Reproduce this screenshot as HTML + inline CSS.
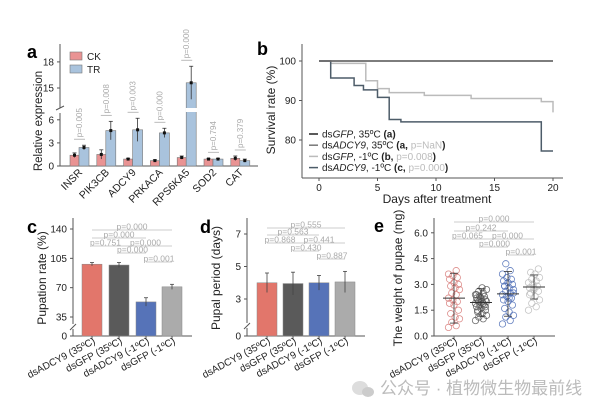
<!DOCTYPE html>
<html><head><meta charset="utf-8">
<style>
html,body{margin:0;padding:0;background:#fff;}
svg{display:block;font-family:"Liberation Sans","Noto Sans CJK SC",sans-serif;}
</style></head>
<body>
<svg id="fig" width="600" height="413" viewBox="0 0 600 413" xmlns="http://www.w3.org/2000/svg">
<text x="27" y="58" font-size="18" font-weight="bold">a</text>
<text x="257" y="55" font-size="18" font-weight="bold">b</text>
<text x="27" y="233" font-size="18" font-weight="bold">c</text>
<text x="200" y="233" font-size="18" font-weight="bold">d</text>
<text x="374" y="232" font-size="18" font-weight="bold">e</text>
<g>
<ellipse cx="360" cy="388" rx="8" ry="7" fill="#ddd"/><ellipse cx="368" cy="392" rx="6" ry="5" fill="#ccc"/>
<text x="380" y="394" font-size="17" fill="#bbb">公众号 · 植物微生物最前线</text>
</g>
</svg>
<script>
// ---------- data ----------
var genesA = ["INSR","PIK3CB","ADCY9","PRKACA","RPS6KA5","SOD2","CAT"];
var ckVals = [1.4,1.5,0.9,0.7,1.1,0.9,1.0];
var ckErr = [0.3,0.6,0.1,0.1,0.2,0.1,0.3];
var trVals = [2.4,4.6,4.7,4.3,15.6,0.9,0.7];
var trErr = [0.3,1.2,1.5,0.6,1.9,0.1,0.2];
var pA = ["p=0.005","p=0.008","p=0.003","p=0.000","p=0.000","p=0.794","p=0.379"];
var ticksALow = [0,3,6];
var ticksAHigh = [15,18];

var sGFP35T = [0,20], sGFP35V = [100,100];
var sADCY35T = [0,20], sADCY35V = [100,100];
var sGFPm1T = [0,1,4,5,6,9,13,19,20], sGFPm1V = [100,99.4,95,93,92,91.3,90.5,89.7,87];
var sADCYm1T = [0,1,3,3.8,5,6,7,19,20], sADCYm1V = [100,95.7,93.8,92.7,90.8,85.2,84.6,77.2,77.2];
var ticksBX = [0,5,10,15,20];
var ticksBY = [80,90,100];

var groups = ["dsADCY9 (35ºC)","dsGFP (35ºC)","dsADCY9 (-1ºC)","dsGFP (-1ºC)"];
var pupVals = [98,97,53,71];
var pupErr = [2,3,5,3];
var ticksC = [0,35,70,105,140];
var pC = [["p=0.000",0,3],["p=0.000",0,2],["p=0.751",0,1],["p=0.000",1,3],["p=0.000",1,2],["p=0.001",2,3]];
var perVals = [4.0,3.95,4.0,4.05];
var perErr = [0.6,0.7,0.45,0.65];
var ticksD = [0,3,5,7];
var pD = [["p=0.555",0,3],["p=0.563",0,2],["p=0.868",0,1],["p=0.441",1,3],["p=0.430",1,2],["p=0.887",2,3]];
var wMean = [2.2,1.95,2.45,2.85];
var wSd = [1.45,0.8,1.3,0.7];
var ticksE = [0,1.5,3,4.5,6];
var pE = [["p=0.000",0,3],["p=0.242",0,2],["p=0.065",0,1],["p=0.000",1,3],["p=0.000",1,2],["p=0.001",2,3]];
var w0 = [0.5,0.6,0.8,1.0,1.1,1.3,1.5,1.8,1.9,2.0,2.1,2.2,2.4,2.5,2.7,2.8,2.9,3.0,3.1,3.3,3.4,3.5,3.6,3.8];
var w1 = [0.9,1.0,1.1,1.2,1.3,1.4,1.5,1.6,1.7,1.8,1.8,1.9,1.9,2.0,2.0,2.0,2.1,2.1,2.2,2.2,2.3,2.3,2.4,2.5,2.6,2.7,2.8,1.5,1.7,2.1,2.4];
var w2 = [0.7,0.9,1.1,1.2,1.4,1.6,1.8,2.0,2.1,2.2,2.3,2.4,2.5,2.6,2.7,2.8,2.9,3.0,3.1,3.2,3.3,3.4,3.6,3.8,4.2,2.5,2.2,2.9];
var w3 = [1.5,1.7,1.9,2.1,2.3,2.5,2.6,2.7,2.8,2.9,3.0,3.1,3.2,3.3,3.4,3.6,3.7,3.9,2.8,2.4];
var wAll = [w0,w1,w2,w3];

// ---------- helpers ----------
var NS = "http://www.w3.org/2000/svg";
var svg = document.getElementById("fig");
function mk(tag, attrs, parent){
  var e = document.createElementNS(NS, tag);
  for (var k in attrs) e.setAttribute(k, attrs[k]);
  (parent || svg).appendChild(e);
  return e;
}
function txt(x,y,s,size,fill,anchor,rot){
  var t = mk("text",{x:x,y:y,"font-size":size,fill:fill||"#222","text-anchor":anchor||"middle"});
  if (rot) t.setAttribute("transform","rotate("+rot+" "+x+" "+y+")");
  t.textContent = s;
  return t;
}
var el;

// ---------- panel a ----------
function ya(v){ return v <= 7 ? 166 - v*7.7 : 88 - (v-15)*8.7; }
function xa(i){ return 79 + i*26.8; }
el = mk("line",{x1:60,y1:44,x2:60,y2:108,stroke:"#555"});


el = mk("line",{x1:60,y1:113,x2:60,y2:166,stroke:"#555"});


el = mk("line",{x1:56,y1:110,x2:64,y2:106,stroke:"#555"});


el = mk("line",{x1:60,y1:166,x2:258,y2:166,stroke:"#555"});


ticksALow.concat(ticksAHigh).forEach(function(v){
  el = mk("line",{x1:57,y1:ya(v),x2:60,y2:ya(v),stroke:"#555"});
  
  
  el = txt(54,ya(v)+3.5,String(v),10,"#222","end");
  
  
});
el = txt(42,121,"Relative expression",11.5,"#222","middle",-90);


genesA.forEach(function(g,i){
  var cx = xa(i);
  el = mk("rect",{x:cx-9,y:ya(ckVals[i]),width:9,height:166-ya(ckVals[i]),fill:"#e99393",stroke:"#777","stroke-width":0.6});
  
  
  el = mk("rect",{x:cx,y:ya(trVals[i]),width:10,height:166-ya(trVals[i]),fill:"#a9c3dd",stroke:"#777","stroke-width":0.6});
  
  
  if (trVals[i] > 7){
    el = mk("rect",{x:cx-0.5,y:108,width:11,height:4,fill:"#fff"});
    
    
  }
  [[cx-4.5,ckVals[i],ckErr[i]],[cx+5,trVals[i],trErr[i]]].forEach(function(d){
    el = mk("line",{x1:d[0],y1:ya(d[1]+d[2]),x2:d[0],y2:ya(d[1]-d[2]),stroke:"#333","stroke-width":0.8});
    
    
    el = mk("line",{x1:d[0]-2,y1:ya(d[1]+d[2]),x2:d[0]+2,y2:ya(d[1]+d[2]),stroke:"#333","stroke-width":0.8});
    
    
    el = mk("rect",{x:d[0]-1.5,y:ya(d[1])-1.5,width:3,height:3,fill:"#111"});
    
    
  });
  var top = Math.min(ya(ckVals[i]+ckErr[i]), ya(trVals[i]+trErr[i])) - 6;
  el = mk("line",{x1:cx-5,y1:top,x2:cx+6,y2:top,stroke:"#aaa","stroke-width":0.8});
  
  
  el = txt(cx+3,top-2,pA[i],8,"#aaa","start",-90);
  
  
  el = txt(cx+4,173,g,10.5,"#222","end",-45);
  
  
});
el = mk("rect",{x:70,y:52,width:12,height:8,fill:"#e99393",stroke:"#777","stroke-width":0.6});


el = txt(87,60,"CK",10,"#222","start");


el = mk("rect",{x:70,y:65,width:12,height:8,fill:"#a9c3dd",stroke:"#777","stroke-width":0.6});


el = txt(87,73,"TR",10,"#222","start");



// ---------- panel b ----------
function xb(d){ return 319 + d*11.7; }
function yb(v){ return 61 + (100-v)*3.95; }
el = mk("line",{x1:302,y1:44,x2:302,y2:178,stroke:"#555"});


el = mk("line",{x1:302,y1:178,x2:563,y2:178,stroke:"#555"});


ticksBX.forEach(function(v){
  el = mk("line",{x1:xb(v),y1:178,x2:xb(v),y2:181,stroke:"#555"});
  
  
  el = txt(xb(v),191,String(v),10,"#222","middle");
  
  
});
ticksBY.forEach(function(v){
  el = mk("line",{x1:299,y1:yb(v),x2:302,y2:yb(v),stroke:"#555"});
  
  
  el = txt(296,yb(v)+3.5,String(v),10,"#222","end");
  
  
});
el = txt(437,203,"Days after treatment",12,"#222","middle");


el = txt(275,110,"Survival rate (%)",12,"#222","middle",-90);


function stepPath(T,V){
  var d = "M"+xb(T[0])+","+yb(V[0]);
  for (var i=1;i<T.length;i++){ d += " H"+xb(T[i])+" V"+yb(V[i]); }
  return d;
}
var bSeries = [[sGFPm1T,sGFPm1V,"#bbb","line-dsgfp-minus1"],[sADCYm1T,sADCYm1V,"#4d5c69","line-dsadcy9-minus1"],[sGFP35T,sGFP35V,"#222","line-dsgfp-35"],[sADCY35T,sADCY35V,"#777","line-dsadcy9-35"]];
bSeries.forEach(function(s){
  el = mk("path",{d:stepPath(s[0],s[1]),fill:"none",stroke:s[2],"stroke-width":1.5});
  
  
});
var legB = [["#222","dsGFP, 35ºC ","(a)",""],["#777","dsADCY9, 35ºC ","(a, ","p=NaN"],["#bbb","dsGFP, -1ºC ","(b, ","p=0.008"],["#4d5c69","dsADCY9, -1ºC ","(c, ","p=0.000"]];
legB.forEach(function(l,i){
  var y = 134 + i*11.2;
  el = mk("line",{x1:309,y1:y,x2:318,y2:y,stroke:l[0],"stroke-width":1.5});
  
  
  var t = mk("text",{x:322,y:y+3.5,"font-size":10,fill:"#222"});
  
  
  var parts = l[1].split(",");
  var name = parts[0];
  var s1 = document.createElementNS(NS,"tspan"); s1.textContent = "ds"; t.appendChild(s1);
  var s2 = document.createElementNS(NS,"tspan"); s2.setAttribute("font-style","italic"); s2.textContent = name.slice(2); t.appendChild(s2);
  var s3 = document.createElementNS(NS,"tspan"); s3.textContent = ","+parts[1]; t.appendChild(s3);
  var s4 = document.createElementNS(NS,"tspan"); s4.setAttribute("font-weight","bold"); s4.textContent = l[2]; t.appendChild(s4);
  if (l[3]){
    var s5 = document.createElementNS(NS,"tspan"); s5.setAttribute("fill","#bbb"); s5.textContent = l[3]; t.appendChild(s5);
    var s6 = document.createElementNS(NS,"tspan"); s6.setAttribute("font-weight","bold"); s6.textContent = ")"; t.appendChild(s6);
  }
});

// ---------- bar panels c/d ----------
var barCols = ["#e2766b","#5a5a5a","#5673b8","#ababab"];
function barPanel(pre, x0, xs, yf, ticks, vals, errs, pv, pY, title, brk){
  el = mk("line",{x1:x0,y1:218,x2:x0,y2:brk-3,stroke:"#555"});
  
  
  el = mk("line",{x1:x0,y1:brk+2,x2:x0,y2:336,stroke:"#555"});
  
  
  el = mk("line",{x1:x0-3,y1:brk+3,x2:x0+3,y2:brk-3,stroke:"#555"});
  
  
  el = mk("line",{x1:x0,y1:336,x2:xs[3]+20,y2:336,stroke:"#555"});
  
  
  ticks.forEach(function(v){
    el = mk("line",{x1:x0-3,y1:yf(v),x2:x0,y2:yf(v),stroke:"#555"});
    
    
    el = txt(x0-6,yf(v)+3.5,String(v),10,"#222","end");
    
    
  });
  el = txt(x0-27,278,title,12,"#222","middle",-90);
  
  
  groups.forEach(function(g,i){
    el = mk("rect",{x:xs[i]-10,y:yf(vals[i]),width:20,height:336-yf(vals[i]),fill:barCols[i],stroke:"#888","stroke-width":0.5});
    
    
    el = mk("line",{x1:xs[i],y1:yf(vals[i]+errs[i]),x2:xs[i],y2:yf(vals[i]-errs[i]),stroke:"#444","stroke-width":0.8});
    
    
    el = mk("line",{x1:xs[i]-2,y1:yf(vals[i]+errs[i]),x2:xs[i]+2,y2:yf(vals[i]+errs[i]),stroke:"#444","stroke-width":0.8});
    
    
    el = mk("line",{x1:xs[i],y1:336,x2:xs[i],y2:339,stroke:"#555"});
    
    
    el = txt(xs[i]+4,343,g,10,"#222","end",-28);
    
    
  });
  pv.forEach(function(p,k){
    var a = xs[p[1]], b = xs[p[2]], y = pY[k];
    el = mk("line",{x1:a,y1:y,x2:b,y2:y,stroke:"#bbb","stroke-width":0.8});
    
    
    el = txt((a+b)/2,y-0.5,p[0],8.5,"#aaa","middle");
    
    
  });
}
barPanel("c",73,[92,119,146,172],function(v){return v<=20 ? 336 - v*0.55 : 317 - (v-35)*0.838;},ticksC,pupVals,pupErr,pC,[230,238,246,246,253,262],"Pupation rate (%)",327);
barPanel("d",247,[267,293,319,345],function(v){return v<=1 ? 336 - v*20 : 299 - (v-3)*16.25;},ticksD,perVals,perErr,pD,[228,235,243,243,251,259],"Pupal period (days)",326);

// ---------- panel e ----------
var xsE = [454,481,508,534];
function ye(v){ return 336 - v*17.2; }
var eCols = ["#d77a78","#555","#4a6bb5","#bbb"];
el = mk("line",{x1:434,y1:218,x2:434,y2:336,stroke:"#555"});


el = mk("line",{x1:434,y1:336,x2:555,y2:336,stroke:"#555"});


ticksE.forEach(function(v){
  el = mk("line",{x1:431,y1:ye(v),x2:434,y2:ye(v),stroke:"#555"});
  
  
  el = txt(428,ye(v)+3.5,v.toFixed(1),10,"#222","end");
  
  
});
el = txt(402,278,"The weight of pupae (mg)",12,"#222","middle",-90);


groups.forEach(function(g,i){
  wAll[i].forEach(function(v,j){
    var off = ((j*7)%11 - 5)*1.1;
    el = mk("circle",{cx:xsE[i]+off,cy:ye(v),r:3.2,fill:"none",stroke:eCols[i],"stroke-width":0.8,opacity:0.85});
    
    
  });
  el = mk("line",{x1:xsE[i]-11,y1:ye(wMean[i]),x2:xsE[i]+11,y2:ye(wMean[i]),stroke:"#333","stroke-width":1});
  
  
  el = mk("line",{x1:xsE[i],y1:ye(wMean[i]+wSd[i]),x2:xsE[i],y2:ye(wMean[i]-wSd[i]),stroke:"#333","stroke-width":0.8});
  
  
  [wMean[i]+wSd[i], wMean[i]-wSd[i]].forEach(function(v){
    el = mk("line",{x1:xsE[i]-4,y1:ye(v),x2:xsE[i]+4,y2:ye(v),stroke:"#333","stroke-width":0.8});
    
    
  });
  el = mk("line",{x1:xsE[i],y1:336,x2:xsE[i],y2:339,stroke:"#555"});
  
  
  el = txt(xsE[i]+4,343,g,10,"#222","end",-28);
  
  
});
var pYE = [222,231,239,239,247,255];
pE.forEach(function(p,k){
  var a = xsE[p[1]], b = xsE[p[2]], y = pYE[k];
  el = mk("line",{x1:a,y1:y,x2:b,y2:y,stroke:"#bbb","stroke-width":0.8});
  
  
  el = txt((a+b)/2,y-0.5,p[0],8.5,"#aaa","middle");
  
  
});
</script>
</body></html>
